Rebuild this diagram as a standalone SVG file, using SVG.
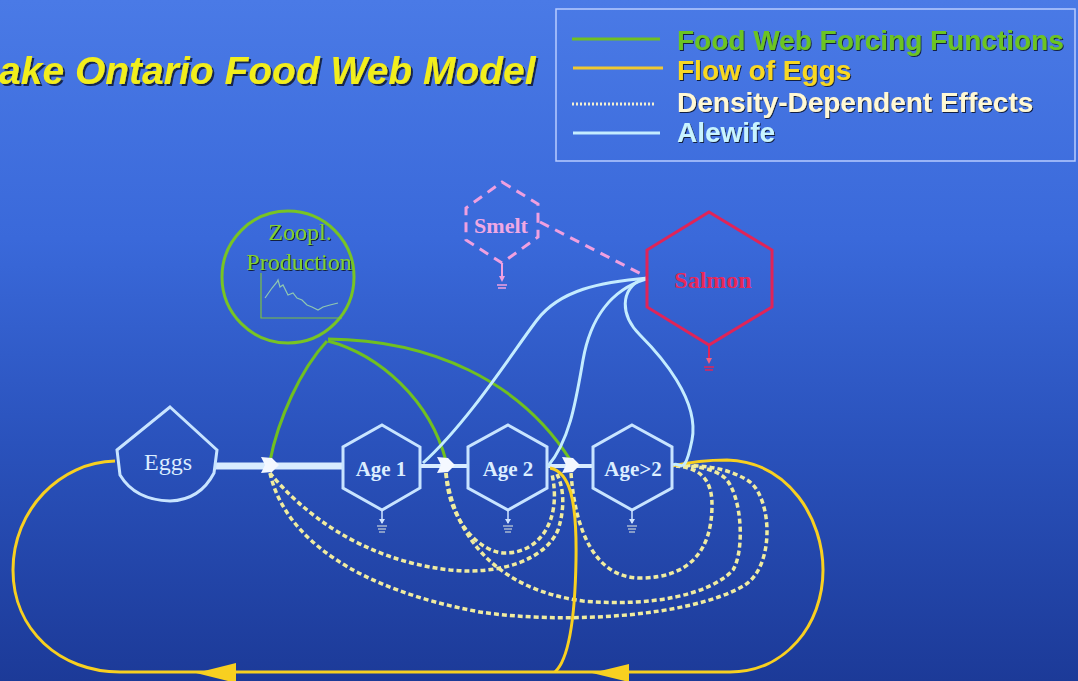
<svg xmlns="http://www.w3.org/2000/svg" width="1078" height="681" viewBox="0 0 1078 681">
<defs>
<linearGradient id="bg" x1="0" y1="0" x2="0" y2="1">
<stop offset="0" stop-color="#4a7ae6"/>
<stop offset="0.35" stop-color="#3a69da"/>
<stop offset="0.65" stop-color="#2a52bc"/>
<stop offset="1" stop-color="#1c3a98"/>
</linearGradient>
<filter id="sh" x="-5%" y="-20%" width="110%" height="150%">
<feDropShadow dx="2" dy="2" stdDeviation="0.6" flood-color="#101830" flood-opacity="0.85"/>
</filter>
<filter id="sh2" x="-5%" y="-20%" width="110%" height="150%">
<feDropShadow dx="1" dy="1" stdDeviation="0.4" flood-color="#0a1430" flood-opacity="0.9"/>
</filter>
<polygon id="valve" points="-9,-8 2,-7 9,0 2,7 -9,8 -5,0" fill="#f4f8ff"/>
<g id="ground">
<line x1="0" y1="0" x2="0" y2="13" stroke="#d0e4ff" stroke-width="1.5"/>
<path d="M-3,9 L0,14 L3,9 Z" fill="#d0e4ff"/>
<line x1="-5" y1="16" x2="5" y2="16" stroke="#a8b8d0" stroke-width="1.5"/>
<line x1="-4" y1="19" x2="4" y2="19" stroke="#a8b8d0" stroke-width="1.5"/>
<line x1="-3" y1="22" x2="3" y2="22" stroke="#a8b8d0" stroke-width="1.5"/>
</g>
</defs>
<style>
.age{fill:none;stroke:#c8e4ff;stroke-width:3}
.agetxt{font-family:"Liberation Serif","Times New Roman",serif;font-weight:bold;font-size:21px;fill:#dceeff;text-anchor:middle}
.green{fill:none;stroke:#70c020;stroke-width:3}
.blue{fill:none;stroke:#c4ecff;stroke-width:3}
.yellow{fill:none;stroke:#f8d020;stroke-width:3}
.dot{fill:none;stroke:#f0eca0;stroke-width:3.5;stroke-dasharray:5 3}
.leg{font-family:"Liberation Sans",Arial,sans-serif;font-weight:bold;font-size:28px}
</style>
<rect x="0" y="0" width="1078" height="681" fill="url(#bg)"/>

<text x="-1" y="84" font-family="'Liberation Sans',Arial,sans-serif" font-weight="bold" font-style="italic" font-size="39" fill="#f2ee1c" filter="url(#sh)">ake Ontario Food Web Model</text>

<g id="legend">
<rect x="556" y="9" width="519" height="152" fill="none" stroke="#b8ccff" stroke-width="1.5"/>
<line x1="572" y1="39" x2="660" y2="39" stroke="#70c020" stroke-width="3"/>
<line x1="573" y1="68" x2="663" y2="68" stroke="#f0c830" stroke-width="3"/>
<line x1="572" y1="104" x2="655" y2="104" stroke="#f4f0d0" stroke-width="3" stroke-dasharray="2 2"/>
<line x1="573" y1="133" x2="660" y2="133" stroke="#c4ecff" stroke-width="3"/>
<text class="leg" x="677" y="50" fill="#6cc424" filter="url(#sh2)">Food Web Forcing Functions</text>
<text class="leg" x="677" y="80" fill="#f8d820" filter="url(#sh2)">Flow of Eggs</text>
<text class="leg" x="677" y="112" fill="#fff8d4" filter="url(#sh2)">Density-Dependent Effects</text>
<text class="leg" x="677" y="142" fill="#c8f4ff" filter="url(#sh2)">Alewife</text>
</g>

<g id="connectors">
<line x1="215" y1="466" x2="344" y2="466" stroke="#d8ecff" stroke-width="7"/>
<line x1="420" y1="466" x2="468" y2="466" stroke="#d8ecff" stroke-width="4"/>
<line x1="547" y1="466" x2="593" y2="466" stroke="#d8ecff" stroke-width="4"/>
<path class="dot" d="M 270 473 C 285 540, 360 590, 480 612 C 560 624, 690 618, 745 585 C 775 565, 772 500, 750 482 C 730 468, 700 464, 676 466"/>
<path class="dot" d="M 270 473 C 300 510, 360 560, 450 570 C 500 575, 545 560, 558 530 C 566 505, 563 485, 556 472"/>
<path class="dot" d="M 446 473 C 448 520, 480 553, 505 553 C 540 553, 562 520, 552 474"/>
<path class="dot" d="M 446 473 C 455 540, 500 590, 583 601 C 650 607, 710 595, 733 570 C 745 550, 742 495, 725 478 C 712 467, 690 465, 676 466"/>
<path class="dot" d="M 571 473 C 575 530, 595 578, 640 578 C 690 578, 712 550, 712 505 C 712 485, 705 468, 676 466"/>
<path class="yellow" d="M 672 466 C 690 462, 705 460, 727 460 C 790 462, 823 520, 823 570 C 823 625, 785 672, 730 672 L 120 672 C 60 672, 13 630, 13 570 C 13 510, 60 462, 115 461"/>
<path class="yellow" d="M 550 468 C 570 472, 577 500, 576 560 C 575 620, 568 660, 555 672"/>
<polygon points="196,673 236,663 236,683" fill="#f8d020"/>
<polygon points="592,673 629,664 629,682" fill="#f8d020"/>
<path class="green" d="M 327 341 C 300 370, 278 420, 270 461"/>
<path class="green" d="M 328 341 C 380 355, 430 400, 446 461"/>
<path class="green" d="M 328 339 C 430 340, 520 380, 571 461"/>
<path class="blue" d="M 648 278 C 600 282, 560 290, 537 320 S 470 420, 423 463"/>
<path class="blue" d="M 646 279 C 610 290, 590 320, 583 360 S 570 440, 548 466"/>
<path class="blue" d="M 642 279 C 620 290, 620 315, 640 335 S 700 400, 692 440 S 680 460, 673 465"/>
<path d="M 540 222 L 647 277" fill="none" stroke="#f0a0e0" stroke-width="3" stroke-dasharray="10 7"/>
<use href="#valve" x="270" y="465"/>
<use href="#valve" x="446" y="465"/>
<use href="#valve" x="571" y="465"/>
</g>

<g id="zoopl">
<circle cx="288" cy="277" r="66" fill="none" stroke="#78c424" stroke-width="3"/>
<text x="300" y="240" font-family="'Liberation Serif','Times New Roman',serif" font-size="24" fill="#80d030" text-anchor="middle" filter="url(#sh2)">Zoopl.</text>
<text x="299" y="270" font-family="'Liberation Serif','Times New Roman',serif" font-size="24" fill="#80d030" text-anchor="middle" filter="url(#sh2)">Production</text>
<polyline points="261,273 261,318 342,318" fill="none" stroke="#7cc040" stroke-width="1.2"/>
<polyline points="265,298 272,288 277,282 278,280 280,287 283,285 288,295 293,293 297,298 302,300 307,305 312,307 318,310 323,307 330,305 338,303" fill="none" stroke="#90c8b0" stroke-width="1.2"/>
</g>

<g id="smelt">
<polygon points="502,182 538,204 538,237 502,263 466,240 466,208" fill="none" stroke="#f0a0e0" stroke-width="3" stroke-dasharray="10 7"/>
<text x="501" y="233" font-family="'Liberation Serif','Times New Roman',serif" font-weight="bold" font-size="22" fill="#f0a8e4" text-anchor="middle">Smelt</text>
<line x1="502" y1="263" x2="502" y2="280" stroke="#f0a0e0" stroke-width="2"/>
<path d="M499,276 L502,282 L505,276 Z" fill="#f0a0e0"/>
<line x1="497" y1="285" x2="507" y2="285" stroke="#f0a0e0" stroke-width="1.5"/>
<line x1="498" y1="288" x2="506" y2="288" stroke="#f0a0e0" stroke-width="1.5"/>
</g>

<g id="salmon">
<polygon points="709,212 772,250 772,307 709,345 647,307 647,250" fill="none" stroke="#e02458" stroke-width="3"/>
<text x="713" y="288" font-family="'Liberation Serif','Times New Roman',serif" font-weight="bold" font-size="24" fill="#e82858" text-anchor="middle">Salmon</text>
<line x1="709" y1="345" x2="709" y2="362" stroke="#e02458" stroke-width="2"/>
<path d="M706,358 L709,364 L712,358 Z" fill="#f06080"/>
<line x1="704" y1="367" x2="714" y2="367" stroke="#e02458" stroke-width="1.5"/>
<line x1="705" y1="370" x2="713" y2="370" stroke="#e02458" stroke-width="1.5"/>
</g>

<g id="eggs">
<path d="M 170 407 L 217 450 L 214 473 Q 200 500 170 501 Q 135 500 120 475 L 117 450 Z" fill="none" stroke="#c8e4ff" stroke-width="3"/>
<text x="168" y="470" font-family="'Liberation Serif','Times New Roman',serif" font-size="24" fill="#dceeff" text-anchor="middle">Eggs</text>
</g>

<g id="age1">
<polygon class="age" points="382,425 420,447 420,488 382,510 343,488 343,447"/>
<text class="agetxt" x="381" y="476">Age 1</text>
<use href="#ground" x="382" y="510"/>
</g>

<g id="age2">
<polygon class="age" points="508,425 547,447 547,488 508,510 468,488 468,447"/>
<text class="agetxt" x="508" y="476">Age 2</text>
<use href="#ground" x="508" y="510"/>
</g>

<g id="age3">
<polygon class="age" points="632,425 672,447 672,488 632,510 593,488 593,447"/>
<text class="agetxt" x="633" y="476">Age&gt;2</text>
<use href="#ground" x="632" y="510"/>
</g>
</svg>
